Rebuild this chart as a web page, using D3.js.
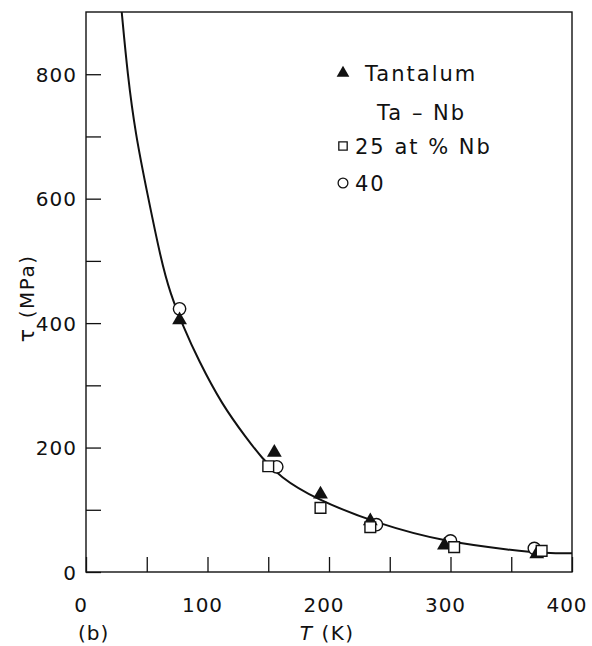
<!DOCTYPE html>
<html>
<head>
<meta charset="utf-8">
<script src="https://cdn.jsdelivr.net/npm/d3@7"></script>
<style>
  body { margin: 0; background: #fff; }
  text { font-family: 'DejaVu Sans', sans-serif; fill: #111; }
</style>
</head>
<body>
<div id="chart"></div>
<script>
// T (K), tau (MPa)
const tantalum = [[77, 405], [155, 192], [193, 125], [234, 82], [295, 43], [371, 29]]
const nb25 = [[150, 170], [193, 103], [234, 72], [303, 40], [375, 34]]
const nb40 = [[77, 423], [157, 169], [239, 76], [300, 50], [369, 38]]
const fitCurve = [[29.4, 900], [34.2, 800], [40.7, 704], [50.6, 607], [61.7, 502], [69.1, 449],
  [80.1, 394], [92.4, 341], [111.9, 269], [132.5, 214], [144.8, 183], [159.7, 153], [186.8, 119],
  [242, 76], [297, 48], [351, 35], [379, 30], [400, 30]]
const xTickLabels = [0, 100, 200, 300, 400]
const yTickLabels = [0, 200, 400, 600, 800]
const legendItems = [
  { symbol: 'triangle', label: 'Tantalum' },
  { symbol: 'none', label: 'Ta – Nb' },
  { symbol: 'square', label: '25 at % Nb' },
  { symbol: 'circle', label: '40' }
]

let margin = { top: 12, left: 86, right: 20, bottom: 74 }
let width = 592 - margin.left - margin.right
let height = 646 - margin.top - margin.bottom

let svg = d3.select('#chart')
  .append('svg')
  .attr('width', 592)
  .attr('height', 646)
  .append('g')
  .attr('transform', 'translate(' + margin.left + ',' + margin.top + ')')

let x = d3.scaleLinear().domain([0, 400]).range([0, width])
let y = d3.scaleLinear().domain([0, 900]).range([height, 0])

// frame
svg.append('rect')
  .attr('width', width)
  .attr('height', height)
  .attr('fill', 'none')
  .attr('stroke', '#111')
  .attr('stroke-width', 1.4)

// inward ticks
let xAxis = d3.axisTop(x).tickValues(d3.range(0, 401, 50)).tickSize(15).tickFormat('')
svg.append('g')
  .attr('class', 'x-axis')
  .attr('transform', 'translate(0,' + height + ')')
  .call(xAxis)

let yAxis = d3.axisRight(y).tickValues(d3.range(0, 801, 100)).tickSize(15).tickFormat('')
svg.append('g')
  .attr('class', 'y-axis')
  .call(yAxis)

svg.selectAll('.domain').remove()
svg.selectAll('.tick line').attr('stroke', '#111').attr('stroke-width', 1.3)

// tick labels
svg.selectAll('.xlab')
  .data(xTickLabels)
  .enter()
  .append('text')
  .attr('x', d => x(d) - 5)
  .attr('y', height + 40)
  .attr('text-anchor', 'middle')
  .attr('font-size', 20)
  .attr('letter-spacing', 1)
  .text(d => d)

svg.selectAll('.ylab')
  .data(yTickLabels)
  .enter()
  .append('text')
  .attr('x', -9)
  .attr('y', d => y(d) + 7.5)
  .attr('text-anchor', 'end')
  .attr('font-size', 20)
  .attr('letter-spacing', 1)
  .text(d => d)

// axis titles
let xt = svg.append('text')
  .attr('x', x(176))
  .attr('y', height + 68)
  .attr('font-size', 20)
  .attr('letter-spacing', 1.5)
xt.append('tspan').attr('font-style', 'italic').text('T')
xt.append('tspan').text(' (K)')

svg.append('text')
  .attr('x', -8)
  .attr('y', height + 68)
  .attr('font-size', 20)
  .attr('letter-spacing', 1)
  .text('(b)')

svg.append('text')
  .attr('transform', 'translate(-52,' + y(459) + ') rotate(-90)')
  .attr('text-anchor', 'middle')
  .attr('font-size', 20)
  .attr('letter-spacing', 1.5)
  .text('(MPa)')

svg.append('text')
  .attr('transform', 'translate(-52,' + y(380) + ') rotate(-90)')
  .attr('text-anchor', 'middle')
  .attr('font-size', 22)
  .text('τ')

// fitted curve
let line = d3.line()
  .x(d => x(d[0]))
  .y(d => y(d[1]))
  .curve(d3.curveBasis)

svg.append('path')
  .datum(fitCurve)
  .attr('d', line)
  .attr('fill', 'none')
  .attr('stroke', '#111')
  .attr('stroke-width', 2)

// markers
let tri = d3.symbol().type(d3.symbolTriangle)
let sq = d3.symbol().type(d3.symbolSquare)
let circ = d3.symbol().type(d3.symbolCircle)

svg.selectAll('.c40')
  .data(nb40)
  .enter()
  .append('path')
  .attr('d', circ.size(120)())
  .attr('transform', d => 'translate(' + x(d[0]) + ',' + y(d[1]) + ')')
  .attr('fill', '#fff')
  .attr('stroke', '#111')
  .attr('stroke-width', 1.4)

svg.selectAll('.ta')
  .data(tantalum)
  .enter()
  .append('path')
  .attr('d', tri.size(95)())
  .attr('transform', d => 'translate(' + x(d[0]) + ',' + y(d[1]) + ')')
  .attr('fill', '#111')

svg.selectAll('.s25')
  .data(nb25)
  .enter()
  .append('path')
  .attr('d', sq.size(115)())
  .attr('transform', d => 'translate(' + x(d[0]) + ',' + y(d[1]) + ')')
  .attr('fill', '#fff')
  .attr('stroke', '#111')
  .attr('stroke-width', 1.4)

// legend
let legend = svg.append('g').attr('transform', 'translate(257,0)')
let rowY = [61, 100, 134, 171]

legendItems.forEach(function(item, i) {
  let g = legend.append('g').attr('transform', 'translate(0,' + rowY[i] + ')')
  if (item.symbol === 'triangle') {
    g.append('path').attr('d', tri.size(70)()).attr('fill', '#111')
  } else if (item.symbol === 'square') {
    g.append('path').attr('d', sq.size(70)()).attr('fill', '#fff')
      .attr('stroke', '#111').attr('stroke-width', 1.3)
  } else if (item.symbol === 'circle') {
    g.append('path').attr('d', circ.size(75)()).attr('fill', '#fff')
      .attr('stroke', '#111').attr('stroke-width', 1.3)
  }
  g.append('text')
    .attr('x', item.symbol === 'triangle' ? 22 : (item.symbol === 'none' ? 34 : 12))
    .attr('y', 8)
    .attr('font-size', 21)
    .attr('letter-spacing', 2)
    .text(item.label)
})
</script>
</body>
</html>
